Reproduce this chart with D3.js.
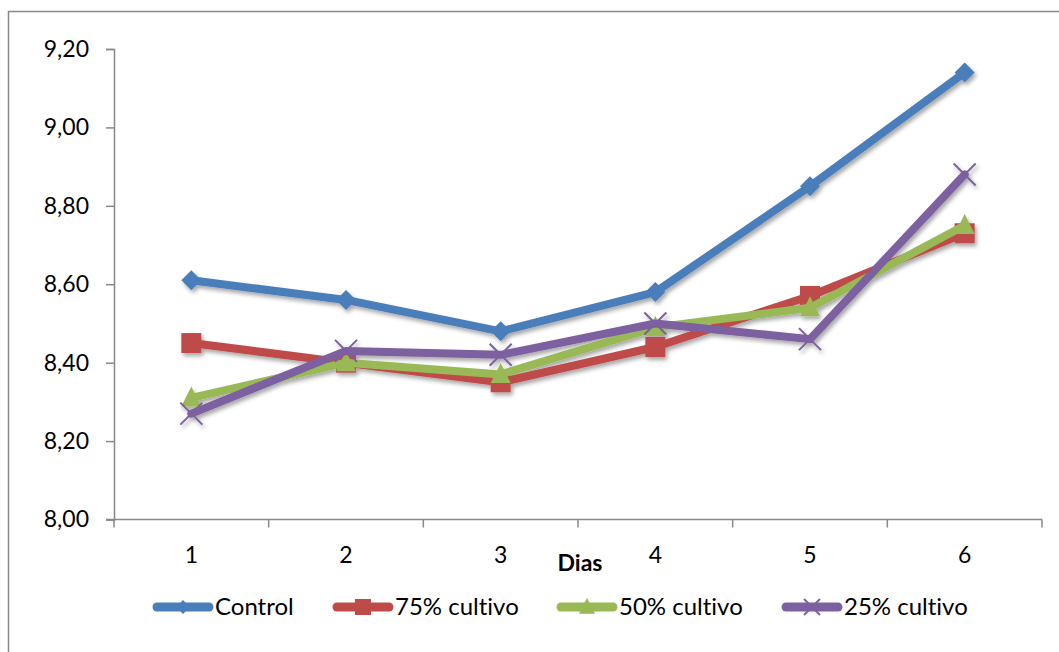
<!DOCTYPE html>
<html>
<head>
<meta charset="utf-8">
<script src="https://cdn.jsdelivr.net/npm/d3@7"></script>
<style>
  html, body { margin: 0; padding: 0; background: #fff; }
  svg { display: block; }
  text { font-family: Lato, "Open Sans", sans-serif; fill: #000; font-variant-ligatures: none; font-feature-settings: "liga" 0, "clig" 0; }
</style>
</head>
<body>
<svg id="chart" width="1059" height="652"></svg>
<script>
// Días de medición
const dias = ["1", "2", "3", "4", "5", "6"];

// Valores por tratamiento
const control = [8.61, 8.56, 8.48, 8.58, 8.85, 9.14];
const cultivo75 = [8.45, 8.40, 8.35, 8.44, 8.57, 8.73];
const cultivo50 = [8.31, 8.40, 8.37, 8.49, 8.54, 8.75];
const cultivo25 = [8.27, 8.43, 8.42, 8.50, 8.46, 8.88];

const seriesNames = ["Control", "75% cultivo", "50% cultivo", "25% cultivo"];
const yTicks = [8.0, 8.2, 8.4, 8.6, 8.8, 9.0, 9.2];

const series = [
  { name: seriesNames[0], values: control,   color: "#4A7EBB", marker: "diamond" },
  { name: seriesNames[1], values: cultivo75, color: "#BE4B48", marker: "square" },
  { name: seriesNames[2], values: cultivo50, color: "#98B954", marker: "triangle" },
  { name: seriesNames[3], values: cultivo25, color: "#7D60A0", marker: "cross" }
];

const svg = d3.select("#chart");

// Soft drop shadow for the series
const defs = svg.append("defs");
const f = defs.append("filter").attr("id", "shadow")
  .attr("x", "-20%").attr("y", "-20%").attr("width", "140%").attr("height", "140%");
f.append("feDropShadow").attr("dx", 2).attr("dy", 3).attr("stdDeviation", 2)
  .attr("flood-color", "#000").attr("flood-opacity", 0.35);

// Chart area frame
svg.append("rect")
  .attr("x", 8.5).attr("y", 11.5).attr("width", 1100).attr("height", 700)
  .attr("fill", "none").attr("stroke", "#898989").attr("stroke-width", 1.5);

const plot = { left: 114, right: 1042, top: 49, bottom: 519.5 };

const x = d3.scaleBand().domain(dias).range([plot.left, plot.right]).padding(0);
const y = d3.scaleLinear().domain([8.0, 9.2]).range([plot.bottom, plot.top]);

const fmt = d => d3.format(".2f")(d).replace(".", ",");

// Y axis
const yAxis = svg.append("g")
  .attr("transform", `translate(${plot.left},0)`)
  .call(d3.axisLeft(y).tickValues(yTicks).tickFormat(fmt).tickSize(8).tickPadding(17));
yAxis.select(".domain").attr("stroke", "#898989").attr("stroke-width", 1.5);
yAxis.selectAll(".tick line").attr("stroke", "#898989").attr("stroke-width", 1.5);
yAxis.selectAll(".tick text").attr("font-size", 23).attr("font-family", "Lato, sans-serif").attr("fill", "#000");

// X axis with tick marks between categories
const xAxisG = svg.append("g").attr("transform", `translate(0,${plot.bottom})`);
xAxisG.append("line")
  .attr("x1", plot.left - 8).attr("x2", plot.right)
  .attr("stroke", "#898989").attr("stroke-width", 1.5);
const boundaries = dias.map(d => x(d)).concat([x(dias[dias.length - 1]) + x.bandwidth()]);
xAxisG.selectAll("line.tk").data(boundaries).enter().append("line")
  .attr("class", "tk")
  .attr("x1", d => d).attr("x2", d => d).attr("y1", 0).attr("y2", 8)
  .attr("stroke", "#898989").attr("stroke-width", 1.5);
xAxisG.selectAll("text").data(dias).enter().append("text")
  .attr("x", d => x(d) + x.bandwidth() / 2)
  .attr("y", 43)
  .attr("text-anchor", "middle")
  .attr("font-size", 23)
  .text(d => d);

// Axis title
svg.append("text")
  .attr("x", (plot.left + plot.right) / 2 + 2)
  .attr("y", 571)
  .attr("text-anchor", "middle")
  .attr("font-size", 23)
  .attr("font-weight", "bold")
  .text("Dias");

// Marker shapes
function drawMarker(g, type, color, s) {
  if (type === "diamond") {
    g.append("path").attr("d", `M0,${-s}L${s},0L0,${s}L${-s},0Z`).attr("fill", color);
  } else if (type === "square") {
    g.append("rect").attr("x", -s).attr("y", -s).attr("width", 2 * s).attr("height", 2 * s).attr("fill", color);
  } else if (type === "triangle") {
    g.append("path").attr("d", `M0,${-s * 1.15}L${s},${s * 0.85}L${-s},${s * 0.85}Z`).attr("fill", color);
  } else if (type === "cross") {
    g.append("path").attr("d", `M${-s},${-s}L${s},${s}M${s},${-s}L${-s},${s}`)
      .attr("stroke", color).attr("stroke-width", 2).attr("fill", "none");
  }
}

const xc = d => x(d) + x.bandwidth() / 2;
const line = d3.line().x((v, i) => xc(dias[i])).y(v => y(v));

const seriesG = svg.append("g").attr("filter", "url(#shadow)");
series.forEach(s => {
  const g = seriesG.append("g");
  g.append("path").datum(s.values).attr("d", line)
    .attr("fill", "none").attr("stroke", s.color).attr("stroke-width", 8)
    .attr("stroke-linejoin", "round").attr("stroke-linecap", "round");
  s.values.forEach((v, i) => {
    const m = g.append("g").attr("transform", `translate(${xc(dias[i])},${y(v)})`);
    const size = s.marker === "cross" ? 11 : 10;
    drawMarker(m, s.marker, s.color, size);
  });
});

// Legend
const legendX = [153, 333, 557, 782];
const legend = svg.append("g");
series.forEach((s, i) => {
  const g = legend.append("g").attr("transform", `translate(${legendX[i]},607)`);
  g.append("line").attr("x1", 4).attr("x2", 56)
    .attr("stroke", s.color).attr("stroke-width", 9).attr("stroke-linecap", "round");
  const m = g.append("g").attr("transform", "translate(30,0)");
  drawMarker(m, s.marker, s.color, s.marker === "diamond" ? 7 : 8);
  g.append("text").attr("x", 62).attr("y", 8).attr("font-size", 24).text(s.name);
});
</script>
</body>
</html>
